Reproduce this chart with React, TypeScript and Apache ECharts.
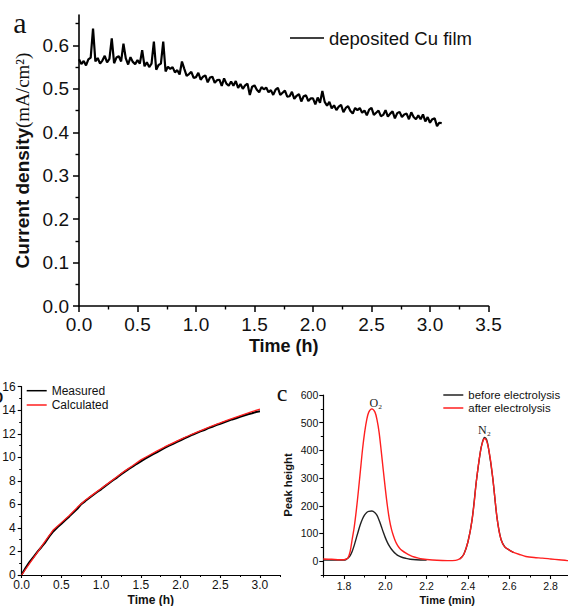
import React, { useEffect, useRef } from 'react';
import * as echarts from 'echarts';

const SANS = '"Liberation Sans", Arial, sans-serif';
const SERIF = '"Liberation Serif", "Times New Roman", "DejaVu Serif", serif';

// ---------- Panel a: current density vs time (sampled every 0.02 h) ----------
const A_STEP = 0.02;
const aCurrent = [
  0.568, 0.557, 0.564, 0.554, 0.568, 0.572, 0.639, 0.563, 0.571, 0.558,
  0.565, 0.576, 0.561, 0.569, 0.616, 0.559, 0.572, 0.575, 0.563, 0.604,
  0.570, 0.556, 0.573, 0.562, 0.557, 0.566, 0.558, 0.589, 0.552, 0.561,
  0.550, 0.558, 0.609, 0.544, 0.555, 0.558, 0.609, 0.540, 0.551, 0.546,
  0.550, 0.538, 0.543, 0.533, 0.563, 0.546, 0.530, 0.534, 0.539, 0.525,
  0.527, 0.537, 0.521, 0.528, 0.531, 0.515, 0.526, 0.528, 0.514, 0.520,
  0.521, 0.507, 0.524, 0.512, 0.507, 0.517, 0.507, 0.518, 0.502, 0.511,
  0.500, 0.508, 0.512, 0.486, 0.505, 0.508, 0.498, 0.492, 0.504, 0.499,
  0.503, 0.492, 0.497, 0.486, 0.498, 0.502, 0.486, 0.491, 0.496, 0.482,
  0.483, 0.493, 0.477, 0.484, 0.488, 0.471, 0.483, 0.485, 0.472, 0.478,
  0.478, 0.464, 0.480, 0.468, 0.495, 0.470, 0.461, 0.470, 0.455, 0.462,
  0.451, 0.459, 0.463, 0.446, 0.456, 0.460, 0.449, 0.443, 0.456, 0.451,
  0.456, 0.445, 0.450, 0.439, 0.452, 0.456, 0.440, 0.445, 0.450, 0.437,
  0.440, 0.451, 0.436, 0.443, 0.448, 0.432, 0.444, 0.447, 0.435, 0.441,
  0.443, 0.430, 0.446, 0.435, 0.430, 0.439, 0.430, 0.441, 0.425, 0.435,
  0.422, 0.430, 0.432, 0.414, 0.422, 0.421,
];
const aYTicks = [0, 0.1, 0.2, 0.3, 0.4, 0.5, 0.6];
const aYMinor = [0.05, 0.15, 0.25, 0.35, 0.45, 0.55, 0.65];

// ---------- Panel b: measured (every 0.05 h) and calculated (every 0.1 h) ----------
const B_MEAS_STEP = 0.05;
const bMeasured = [
  0.05, 0.62, 1.12, 1.55, 1.98, 2.38, 2.80, 3.30, 3.72, 4.05,
  4.35, 4.68, 4.98, 5.30, 5.62, 6.02, 6.28, 6.55, 6.80, 7.05,
  7.28, 7.55, 7.80, 8.05, 8.28, 8.55, 8.78, 9.02, 9.22, 9.45,
  9.65, 9.86, 10.05, 10.25, 10.42, 10.62, 10.80, 10.98, 11.12, 11.30,
  11.45, 11.62, 11.76, 11.92, 12.05, 12.20, 12.32, 12.48, 12.60, 12.74,
  12.85, 12.98, 13.10, 13.22, 13.32, 13.45, 13.55, 13.66, 13.74, 13.85,
  13.92,
];
const B_CALC_STEP = 0.1;
const bCalculated = [
  0.0, 0.98, 1.95, 2.92, 3.85, 4.45, 5.05, 5.75, 6.35, 6.85,
  7.35, 7.85, 8.35, 8.85, 9.30, 9.78, 10.15, 10.52, 10.88, 11.20,
  11.52, 11.83, 12.12, 12.40, 12.68, 12.93, 13.18, 13.42, 13.65, 13.88,
  14.10,
];
const bXTicks = [0, 0.5, 1.0, 1.5, 2.0, 2.5, 3.0];
const bXMinor = [0.25, 0.75, 1.25, 1.75, 2.25, 2.75, 3.25];

// ---------- Panel c: GC peaks ----------
const cBeforeO2Time = [1.70, 1.75, 1.80, 1.81, 1.82, 1.83, 1.84, 1.85, 1.86, 1.87, 1.88, 1.89, 1.90, 1.91, 1.92, 1.935, 1.95, 1.96, 1.97, 1.98, 1.99, 2.00, 2.01, 2.02, 2.03, 2.04, 2.05, 2.06, 2.08, 2.10, 2.12, 2.15, 2.20];
const cBeforeO2Value = [4, 4, 4, 6, 11, 20, 36, 58, 84, 110, 134, 153, 167, 176, 180, 181, 175, 165, 148, 127, 105, 85, 68, 54, 43, 34, 27, 21, 14, 10, 7, 5, 4];
const cBeforeN2Time = [2.36, 2.38, 2.40, 2.42, 2.44, 2.46, 2.47, 2.48, 2.49, 2.50, 2.52, 2.54, 2.56, 2.58, 2.60, 2.62];
const cBeforeN2Value = [8, 25, 70, 150, 285, 395, 430, 447, 439, 405, 300, 160, 78, 50, 40, 32];
const cAfterTime = [1.70, 1.74, 1.78, 1.80, 1.81, 1.82, 1.83, 1.84, 1.85, 1.86, 1.87, 1.88, 1.89, 1.90, 1.91, 1.92, 1.935, 1.95, 1.96, 1.97, 1.98, 1.99, 2.00, 2.01, 2.02, 2.03, 2.04, 2.05, 2.06, 2.07, 2.08, 2.10, 2.12, 2.14, 2.16, 2.18, 2.20, 2.25, 2.30, 2.34, 2.36, 2.37, 2.38, 2.39, 2.40, 2.41, 2.42, 2.43, 2.44, 2.45, 2.46, 2.47, 2.48, 2.49, 2.50, 2.51, 2.52, 2.53, 2.54, 2.55, 2.56, 2.57, 2.58, 2.60, 2.62, 2.65, 2.68, 2.72, 2.76, 2.80, 2.84, 2.88, 2.90];
const cAfterValue = [8, 7, 5, 5, 7, 13, 35, 80, 125, 185, 255, 330, 405, 465, 510, 538, 550, 538, 510, 465, 400, 330, 262, 200, 150, 115, 90, 70, 56, 46, 39, 29, 21, 15, 11, 8, 6, 3, 2, 3, 8, 14, 25, 45, 70, 105, 150, 210, 285, 345, 395, 428, 443, 435, 405, 360, 300, 230, 160, 110, 78, 60, 50, 40, 32, 24, 17, 13, 11, 8, 5, 2, 1];
const cO2Peak = [1.935, 550];
const cN2Peak = [2.48, 443];
const cXTicks = [1.8, 2.0, 2.2, 2.4, 2.6, 2.8];
const cXMinor = [1.7, 1.9, 2.1, 2.3, 2.5, 2.7, 2.9];
const cYTicks = [0, 100, 200, 300, 400, 500, 600];
const cYMinor = [-50, 50, 150, 250, 350, 450, 550];

const zip = (xs: number[], ys: number[]) => xs.map((x, i) => [x, ys[i]]);
const stepped = (step: number, ys: number[]) => ys.map((y, i) => [+(i * step).toFixed(3), y]);

const INK = '#000';
const TXT = '#111';
const RED = '#ff1f1f';

function lineAxis(width: number) {
  return { show: true, onZero: false, lineStyle: { color: INK, width } };
}
function minorAxis(dim: 'x' | 'y', gridIndex: number, min: number, max: number, values: number[], length: number, width: number) {
  return {
    type: 'value', gridIndex, min, max,
    position: dim === 'x' ? 'bottom' : 'left',
    axisLine: { show: false, onZero: false },
    axisTick: { show: true, inside: false, length, customValues: values, lineStyle: { color: INK, width } },
    axisLabel: { show: false },
    splitLine: { show: false },
  };
}

export default function App() {
  const ref = useRef<HTMLDivElement>(null);
  useEffect(() => {
    document.body.style.margin = '0';
    if (!ref.current) return;
    const chart = echarts.init(ref.current, null, { renderer: 'svg' });
    const option: any = {
      animation: false,
      backgroundColor: '#fff',
      grid: [
        { left: 79, right: 79.5, top: 15, bottom: 300, outerBoundsMode: 'none' },
        { left: 21.7, right: 288.2, top: 386.7, bottom: 31, outerBoundsMode: 'none' },
        { left: 323.3, right: -3.3, top: 395, bottom: 31, outerBoundsMode: 'none' },
      ],
      xAxis: [
        {
          type: 'value', gridIndex: 0, position: 'bottom', min: 0, max: 3.5, interval: 0.5,
          axisLine: lineAxis(1.6),
          axisTick: { show: true, inside: false, length: 6, lineStyle: { color: INK, width: 1.5 } },
          minorTick: { show: true, splitNumber: 2, length: 3.5, lineStyle: { color: INK, width: 1.4 } },
          axisLabel: { margin: 9, fontSize: 19, fontFamily: SANS, color: TXT, formatter: (v: number) => v.toFixed(1) },
          splitLine: { show: false },
          name: 'Time (h)', nameLocation: 'middle', nameGap: 31,
          nameTextStyle: { fontFamily: SANS, fontWeight: 'bold', fontSize: 18, color: TXT },
        },
        {
          type: 'value', gridIndex: 1, position: 'bottom', min: 0, max: 3.25,
          axisLine: lineAxis(1.2),
          axisTick: { show: true, inside: false, length: 3, customValues: bXTicks, lineStyle: { color: INK, width: 1.1 } },
          axisLabel: { margin: 4, fontSize: 12, fontFamily: SANS, color: TXT, customValues: bXTicks, formatter: (v: number) => v.toFixed(1) },
          splitLine: { show: false },
          name: 'Time (h)', nameLocation: 'middle', nameGap: 19,
          nameTextStyle: { fontFamily: SANS, fontWeight: 'bold', fontSize: 12, color: TXT },
        },
        minorAxis('x', 1, 0, 3.25, bXMinor, 2, 1),
        {
          type: 'value', gridIndex: 2, position: 'bottom', min: 1.7, max: 2.9,
          axisLine: lineAxis(1.2),
          axisTick: { show: true, inside: false, length: 4, customValues: cXTicks, lineStyle: { color: INK, width: 1.1 } },
          axisLabel: { margin: 5, fontSize: 10.5, fontFamily: SANS, color: TXT, customValues: cXTicks, formatter: (v: number) => v.toFixed(1) },
          splitLine: { show: false },
          name: 'Time (min)', nameLocation: 'middle', nameGap: 19,
          nameTextStyle: { fontFamily: SANS, fontWeight: 'bold', fontSize: 11, color: TXT },
        },
        minorAxis('x', 2, 1.7, 2.9, cXMinor, 2.5, 1),
      ],
      yAxis: [
        {
          type: 'value', gridIndex: 0, position: 'left', min: 0, max: 0.67,
          axisLine: lineAxis(1.6),
          axisTick: { show: true, inside: false, length: 6, customValues: aYTicks, lineStyle: { color: INK, width: 1.5 } },
          axisLabel: { margin: 10, fontSize: 19, fontFamily: SANS, color: TXT, customValues: aYTicks, formatter: (v: number) => v.toFixed(1) },
          splitLine: { show: false },
          name: '{b|Current density}{s|(mA/cm²)}', nameLocation: 'middle', nameGap: 45,
          nameTextStyle: {
            color: TXT,
            rich: {
              b: { fontFamily: SANS, fontWeight: 'bold', fontSize: 19, color: TXT },
              s: { fontFamily: SERIF, fontSize: 19, color: TXT },
            },
          },
        },
        minorAxis('y', 0, 0, 0.67, aYMinor, 3.5, 1.4),
        {
          type: 'value', gridIndex: 1, position: 'left', min: 0, max: 16, interval: 2,
          axisLine: lineAxis(1.2),
          axisTick: { show: true, inside: false, length: 4, lineStyle: { color: INK, width: 1.1 } },
          minorTick: { show: true, splitNumber: 2, length: 2.5, lineStyle: { color: INK, width: 1 } },
          axisLabel: { margin: 6, fontSize: 12, fontFamily: SANS, color: TXT },
          splitLine: { show: false },
        },
        {
          type: 'value', gridIndex: 2, position: 'left', min: -50, max: 600,
          axisLine: lineAxis(1.2),
          axisTick: { show: true, inside: false, length: 4, customValues: cYTicks, lineStyle: { color: INK, width: 1.1 } },
          axisLabel: { margin: 5, fontSize: 10.5, fontFamily: SANS, color: TXT, customValues: cYTicks },
          splitLine: { show: false },
          name: 'Peak height', nameLocation: 'middle', nameGap: 30,
          nameTextStyle: { fontFamily: SANS, fontWeight: 'bold', fontSize: 11.3, color: TXT },
        },
        minorAxis('y', 2, -50, 600, cYMinor, 2.5, 1),
      ],
      legend: [
        {
          data: ['deposited Cu film'], left: 290, top: 28, padding: 0, orient: 'vertical',
          icon: 'rect', itemWidth: 34, itemHeight: 1.5, selectedMode: false,
          textStyle: { fontFamily: SANS, fontSize: 18.5, lineHeight: 20, color: TXT },
        },
        {
          data: ['Measured', 'Calculated'], left: 26.7, top: 383.7, padding: 0, orient: 'vertical', itemGap: 0.3,
          icon: 'rect', itemWidth: 20, itemHeight: 1.5, selectedMode: false,
          textStyle: { fontFamily: SANS, fontSize: 12, lineHeight: 14, color: TXT },
        },
        {
          data: ['before electrolysis', 'after electrolysis'], left: 443.3, top: 388.5, padding: 0, orient: 'vertical', itemGap: 0,
          icon: 'rect', itemWidth: 20, itemHeight: 1.5, selectedMode: false,
          textStyle: { fontFamily: SANS, fontSize: 11.4, lineHeight: 13, color: TXT },
        },
      ],
      graphic: [
        { type: 'text', x: 20, y: 22, style: { text: 'a', fontFamily: SERIF, fontSize: 30, fill: TXT, align: 'center', verticalAlign: 'middle' } },
        { type: 'text', x: 3.5, y: 394.5, style: { text: 'b', fontFamily: SERIF, fontSize: 24, fill: TXT, align: 'right', verticalAlign: 'middle' } },
        { type: 'text', x: 282, y: 393, style: { text: 'c', fontFamily: SERIF, fontSize: 24, fill: TXT, align: 'center', verticalAlign: 'middle' } },
      ],
      series: [
        {
          name: 'deposited Cu film', type: 'line', xAxisIndex: 0, yAxisIndex: 0,
          data: stepped(A_STEP, aCurrent), showSymbol: false, symbol: 'none', color: INK,
          lineStyle: { color: INK, width: 2.2 },
        },
        {
          name: 'Measured', type: 'line', xAxisIndex: 1, yAxisIndex: 2,
          data: stepped(B_MEAS_STEP, bMeasured), showSymbol: false, symbol: 'none', color: INK,
          lineStyle: { color: INK, width: 2 },
        },
        {
          name: 'Calculated', type: 'line', xAxisIndex: 1, yAxisIndex: 2,
          data: stepped(B_CALC_STEP, bCalculated), showSymbol: false, symbol: 'none', color: RED,
          lineStyle: { color: RED, width: 1.3 },
        },
        {
          name: 'before electrolysis', type: 'line', xAxisIndex: 3, yAxisIndex: 3,
          data: [...zip(cBeforeO2Time, cBeforeO2Value), [2.28, null], ...zip(cBeforeN2Time, cBeforeN2Value)],
          showSymbol: false, symbol: 'none', smooth: 0.3, color: '#222',
          lineStyle: { color: '#222', width: 1.4 },
        },
        {
          name: 'after electrolysis', type: 'line', xAxisIndex: 3, yAxisIndex: 3,
          data: zip(cAfterTime, cAfterValue), showSymbol: false, symbol: 'none', smooth: 0.3, color: RED,
          lineStyle: { color: RED, width: 1.4 },
          markPoint: {
            symbol: 'circle', symbolSize: 0.1, silent: true,
            itemStyle: { color: 'rgba(0,0,0,0)' },
            label: { show: true, position: 'top', fontFamily: SERIF, fontSize: 12, color: '#222' },
            data: [
              { coord: cO2Peak, label: { formatter: 'O₂', distance: 0, offset: [4, 0] } },
              { coord: cN2Peak, label: { formatter: 'N₂', distance: 2 } },
            ],
          },
        },
      ],
    };
    chart.setOption(option);
    return () => chart.dispose();
  }, []);
  return <div ref={ref} style={{ width: 568, height: 606 }} />;
}
